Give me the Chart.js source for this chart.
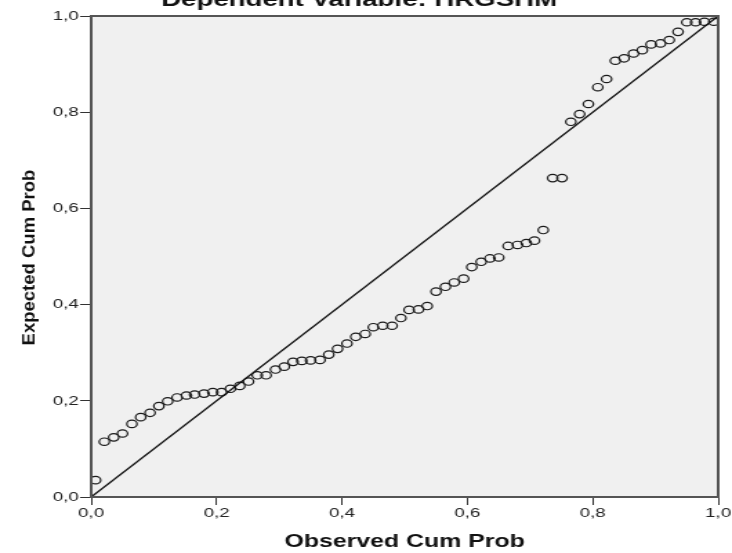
<!DOCTYPE html>
<html>
<head>
<meta charset="utf-8">
<title>Normal P-P Plot</title>
<script src="https://cdn.jsdelivr.net/npm/chart.js@4.4.1/dist/chart.umd.min.js"></script>
<style>
  html, body { margin: 0; padding: 0; background: #fff; overflow: hidden; }
  /* the original SPSS picture is stretched sideways, so the chart is drawn narrower and widened */
  #wrap { width: 530px; height: 553px; transform: scaleX(1.3811); transform-origin: 0 0; }
</style>
</head>
<body>
<div id="wrap"><canvas id="ppPlot"></canvas></div>
<script>
// Observed and expected cumulative probabilities
const observedCum = [
  0.007, 0.021, 0.036, 0.050, 0.065, 0.079, 0.094, 0.108, 0.122, 0.137,
  0.152, 0.165, 0.180, 0.194, 0.208, 0.222, 0.237, 0.251, 0.265, 0.279,
  0.294, 0.308, 0.322, 0.336, 0.350, 0.365, 0.379, 0.393, 0.408, 0.422,
  0.437, 0.450, 0.465, 0.480, 0.494, 0.507, 0.522, 0.536, 0.550, 0.565,
  0.579, 0.594, 0.607, 0.622, 0.636, 0.650, 0.665, 0.680, 0.694, 0.707,
  0.721, 0.736, 0.751, 0.765, 0.779, 0.793, 0.808, 0.822, 0.836, 0.850,
  0.865, 0.879, 0.893, 0.908, 0.922, 0.936, 0.950, 0.964, 0.978, 0.993
];
const expectedCum = [
  0.035, 0.115, 0.124, 0.132, 0.152, 0.166, 0.175, 0.189, 0.199, 0.207,
  0.211, 0.213, 0.215, 0.218, 0.218, 0.225, 0.231, 0.240, 0.253, 0.253,
  0.265, 0.271, 0.281, 0.283, 0.284, 0.285, 0.296, 0.308, 0.319, 0.333,
  0.339, 0.353, 0.356, 0.356, 0.372, 0.389, 0.390, 0.397, 0.427, 0.437,
  0.446, 0.454, 0.478, 0.489, 0.496, 0.498, 0.522, 0.524, 0.528, 0.533,
  0.555, 0.663, 0.663, 0.780, 0.796, 0.817, 0.852, 0.869, 0.907, 0.912,
  0.922, 0.929, 0.941, 0.943, 0.950, 0.967, 0.987, 0.987, 0.988, 0.988
];
// Diagonal reference line
const refX = [0, 1];
const refY = [0, 1];
const tickValues = [0, 0.2, 0.4, 0.6, 0.8, 1.0];

const STRETCH = 1.3811;
const fontFam = "'Liberation Sans', Arial, sans-serif";

const fmtTick = v => v.toFixed(1).replace('.', ',');

// grey plot background and frame
const framePlugin = {
  id: 'frame',
  beforeDatasetsDraw(chart) {
    const a = chart.chartArea, ctx = chart.ctx;
    ctx.save();
    ctx.fillStyle = '#f0f0f0';
    ctx.fillRect(a.left, a.top, a.right - a.left, a.bottom - a.top);
    ctx.restore();
  },
  afterDraw(chart) {
    const a = chart.chartArea, ctx = chart.ctx;
    ctx.save();
    ctx.strokeStyle = '#555';
    ctx.lineWidth = 2;
    ctx.strokeRect(a.left, a.top, a.right - a.left, a.bottom - a.top);
    ctx.restore();
  }
};

// y-axis title is drawn un-stretched, like in the source image
const yTitlePlugin = {
  id: 'yTitle',
  afterDraw(chart) {
    const a = chart.chartArea, ctx = chart.ctx;
    ctx.save();
    ctx.scale(1 / STRETCH, 1);
    ctx.translate(30, (a.top + a.bottom) / 2 + 1);
    ctx.rotate(-Math.PI / 2);
    ctx.font = 'bold 18.5px ' + fontFam;
    ctx.fillStyle = '#111';
    ctx.textAlign = 'center';
    ctx.textBaseline = 'middle';
    ctx.fillText('Expected Cum Prob', 0, 0);
    ctx.restore();
  }
};

const points = observedCum.map((x, i) => ({ x: x, y: expectedCum[i] }));
const diag = refX.map((x, i) => ({ x: x, y: refY[i] }));

const axisCommon = {
  type: 'linear',
  min: 0,
  max: 1,
  afterBuildTicks: s => { s.ticks = tickValues.map(v => ({ value: v })); },
  grid: { drawOnChartArea: false, drawTicks: true, tickLength: 8, color: '#333', lineWidth: 1 },
  border: { display: false }
};

new Chart(document.getElementById('ppPlot'), {
  type: 'scatter',
  data: {
    datasets: [
      {
        type: 'line',
        data: diag,
        borderColor: '#111',
        borderWidth: 1.3,
        pointRadius: 0,
        fill: false
      },
      {
        data: points,
        pointStyle: 'circle',
        pointRadius: 3.7,
        pointBorderWidth: 1.2,
        borderColor: '#1a1a1a',
        backgroundColor: 'rgba(0,0,0,0)'
      }
    ]
  },
  options: {
    responsive: true,
    maintainAspectRatio: false,
    animation: false,
    layout: { padding: { top: 0, right: 10, bottom: 0, left: 0 } },
    plugins: {
      legend: { display: false },
      tooltip: { enabled: false },
      title: {
        display: true,
        text: 'Dependent Variable: HRGSHM',
        color: '#111',
        font: { family: fontFam, size: 20, weight: 'bold' },
        padding: { top: -12, bottom: 4 }
      }
    },
    scales: {
      x: Object.assign({}, axisCommon, {
        position: 'bottom',
        ticks: { callback: fmtTick, font: { family: fontFam, size: 13.5 }, color: '#222', padding: 0, maxRotation: 0 },
        title: { display: true, text: 'Observed Cum Prob', color: '#111', font: { family: fontFam, size: 18, weight: 'bold' }, padding: { top: 0, bottom: 0 } },
        afterFit: s => { s.height = 56; }
      }),
      y: Object.assign({}, axisCommon, {
        position: 'left',
        ticks: { callback: fmtTick, font: { family: fontFam, size: 13.5 }, color: '#222', padding: 1 },
        title: { display: false },
        afterFit: s => { s.width = 66; }
      })
    }
  },
  plugins: [framePlugin, yTitlePlugin]
});
</script>
</body>
</html>
